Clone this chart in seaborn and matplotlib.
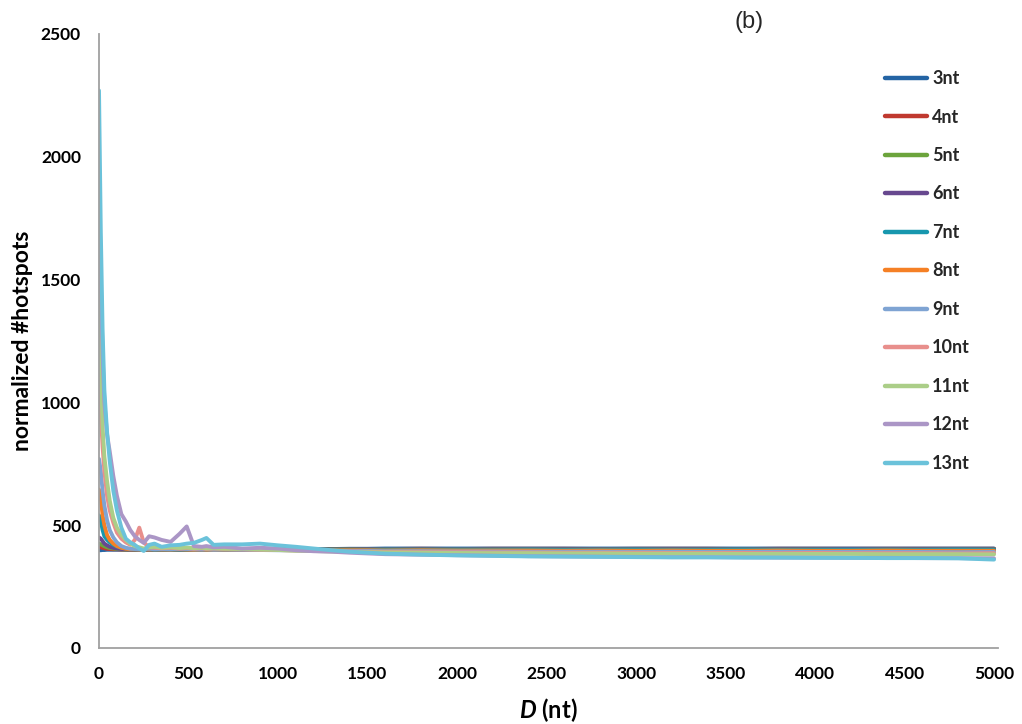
import matplotlib
matplotlib.use("Agg")
import matplotlib.pyplot as plt
import seaborn as sns
import pandas as pd

# ---------------- data ----------------
D_VALUES = [0, 10, 20, 30, 45, 60, 80, 100, 125, 150, 175, 200, 225, 250, 280, 310,
            350, 400, 450, 490, 530, 575, 600, 640, 700, 800, 900, 1000,
            1100, 1200, 1300, 1400, 1500, 1600, 1800, 2000, 2200, 2400, 2600, 2800,
            3000, 3200, 3400, 3600, 3800, 4000, 4200, 4400, 4600, 4800, 5000]

SERIES = ["3nt", "4nt", "5nt", "6nt", "7nt", "8nt", "9nt", "10nt", "11nt", "12nt", "13nt"]

nt3 = [398, 398, 399, 399, 400, 400, 400, 400, 400, 400, 400, 400, 401, 400, 401, 401,
       401, 401, 401, 401, 402, 401, 402, 402, 402, 402, 402, 402,
       402, 403, 403, 404, 404, 405, 405, 405, 405, 405, 405, 405, 405, 405, 405, 405,
       405, 405, 405, 405, 405, 405, 405]
nt4 = [412, 410, 408, 406, 404, 403, 402, 402, 401, 401, 401, 400, 401, 400, 400, 401,
       400, 401, 400, 401, 400, 401, 400, 401, 401, 401, 401, 401,
       401, 402, 402, 403, 403, 403, 404, 403, 404, 404, 404, 403, 404, 404, 404, 403,
       404, 404, 404, 404, 404, 404, 404]
nt5 = [425, 422, 418, 414, 410, 407, 405, 403, 402, 401, 401, 400, 401, 400, 401, 400,
       401, 400, 401, 400, 401, 400, 401, 400, 401, 401, 400, 401,
       401, 401, 402, 402, 402, 402, 403, 402, 403, 403, 402, 403, 403, 402, 403, 403,
       402, 403, 403, 403, 402, 403, 403]
nt6 = [450, 445, 435, 425, 418, 412, 408, 405, 403, 402, 401, 401, 400, 401, 400, 401,
       400, 401, 400, 401, 400, 401, 400, 401, 400, 401, 401, 401,
       401, 401, 401, 401, 402, 402, 402, 402, 402, 402, 402, 402, 402, 402, 402, 402,
       402, 402, 403, 402, 402, 402, 402]
nt7 = [540, 520, 480, 455, 440, 430, 420, 413, 408, 405, 403, 402, 401, 402, 401, 401,
       400, 401, 400, 401, 400, 401, 400, 401, 400, 400, 401, 400,
       400, 400, 400, 400, 400, 401, 400, 401, 400, 401, 400, 400, 401, 400, 400, 401,
       400, 400, 401, 400, 400, 401, 400]
nt8 = [645, 610, 540, 500, 460, 440, 425, 415, 408, 404, 402, 402, 401, 402, 401, 402,
       401, 401, 402, 401, 400, 401, 400, 400, 400, 400, 399, 399,
       399, 399, 398, 398, 398, 397, 398, 397, 397, 397, 396, 397, 396, 397, 396, 396,
       397, 396, 396, 397, 396, 396, 396]
nt9 = [770, 720, 640, 580, 520, 480, 450, 430, 415, 408, 404, 403, 402, 403, 404, 402,
       403, 402, 404, 403, 402, 401, 402, 400, 401, 400, 399, 398,
       398, 397, 396, 395, 395, 394, 394, 393, 393, 392, 392, 392, 391, 392, 391, 391,
       392, 391, 391, 391, 391, 390, 391]
nt10 = [1180, 950, 820, 720, 620, 560, 510, 470, 445, 430, 420, 440, 490, 430, 410, 408,
        406, 408, 405, 407, 404, 406, 403, 405, 403, 402, 400, 399,
        397, 396, 395, 393, 392, 391, 390, 390, 389, 389, 388, 388, 388, 387, 387, 387,
        386, 387, 386, 386, 386, 385, 386]
nt11 = [1540, 1150, 900, 780, 680, 600, 530, 490, 460, 440, 425, 415, 410, 405, 410, 412,
        408, 410, 407, 409, 406, 408, 405, 406, 404, 403, 401, 399,
        396, 395, 393, 391, 390, 389, 388, 387, 386, 386, 385, 385, 384, 384, 384, 383,
        383, 383, 383, 382, 382, 382, 381]
nt12 = [1950, 1500, 1200, 1000, 870, 800, 700, 620, 545, 515, 480, 455, 440, 428, 455, 450,
        440, 432, 465, 495, 415, 412, 415, 410, 412, 405, 408, 405,
        398, 394, 392, 388, 385, 382, 380, 378, 376, 374, 373, 372, 371, 370, 370, 369,
        368, 368, 367, 367, 366, 366, 365]
nt13 = [2270, 1700, 1300, 1050, 880, 760, 640, 560, 490, 445, 430, 420, 405, 395, 420, 425,
        412, 418, 420, 425, 428, 440, 448, 420, 422, 422, 425, 418,
        412, 405, 398, 392, 388, 384, 380, 377, 375, 373, 372, 371, 370, 369, 369, 368,
        368, 367, 367, 366, 366, 365, 360]

VALUES = [nt3, nt4, nt5, nt6, nt7, nt8, nt9, nt10, nt11, nt12, nt13]

COLORS = ["#2464A4", "#C0392F", "#6CA43C", "#67488F", "#1797AE", "#F58025",
          "#7FA4D3", "#E88F8C", "#ABCE88", "#AB96C6", "#6BC2DA"]

X_TICKS = [0, 500, 1000, 1500, 2000, 2500, 3000, 3500, 4000, 4500, 5000]
Y_TICKS = [0, 500, 1000, 1500, 2000, 2500]

frames = [pd.DataFrame({"D": D_VALUES, "value": v, "series": s}) for s, v in zip(SERIES, VALUES)]
df = pd.concat(frames, ignore_index=True)

# ---------------- plot ----------------
sns.set_theme(style="white")
plt.rcParams["font.family"] = ["Lato", "DejaVu Sans"]
plt.rcParams["mathtext.fontset"] = "custom"
plt.rcParams["mathtext.it"] = "Lato:italic:bold"
plt.rcParams["mathtext.rm"] = "Lato:bold"

fig = plt.figure(figsize=(10.22, 7.24), dpi=100)
ax = fig.add_axes([99 / 1022, 1 - 648 / 724, 899 / 1022, 614 / 724])

sns.lineplot(data=df, x="D", y="value", hue="series", hue_order=SERIES,
             palette=COLORS, estimator=None, linewidth=2.8, ax=ax, legend=True)

ax.set_xlim(0, 5022)
ax.set_ylim(0, 2500)
ax.set_xticks(X_TICKS)
ax.set_yticks(Y_TICKS)
ax.set_xticklabels([str(t) for t in X_TICKS])
ax.set_yticklabels([str(t) for t in Y_TICKS])

for side in ["top", "right"]:
    ax.spines[side].set_visible(False)
for side in ["left", "bottom"]:
    ax.spines[side].set_color("#A0A0A0")
    ax.spines[side].set_linewidth(1.3)

ax.tick_params(axis="both", which="major", direction="out", length=5, width=1.2,
               color="#A0A0A0", labelsize=12.5, labelcolor="black", pad=8)
for lbl in ax.get_xticklabels() + ax.get_yticklabels():
    lbl.set_fontweight("bold")

ax.set_ylabel("normalized #hotspots", fontsize=16.5, fontweight="bold", color="black")
ax.yaxis.set_label_coords(-0.073, 0.5)
ax.set_xlabel("$D$ (nt)", fontsize=17, fontweight="bold", color="black")
ax.xaxis.set_label_coords(0.5, -0.078)

handles, labels = ax.get_legend_handles_labels()
leg = ax.legend(handles, labels, loc="upper left", bbox_to_anchor=(876 / 1022, 1 - 61 / 724),
                bbox_transform=fig.transFigure, frameon=False, fontsize=13,
                handlelength=2.35, handletextpad=0.25, labelspacing=1.19, borderpad=0)
for t in leg.get_texts():
    t.set_fontweight("bold")
for h in leg.get_lines():
    h.set_linewidth(3.2)

fig.text(749 / 1022, 1 - 22 / 724, "(b)", fontsize=17, family="Liberation Sans",
         ha="center", va="center")

fig.savefig("out.png", dpi=100)
